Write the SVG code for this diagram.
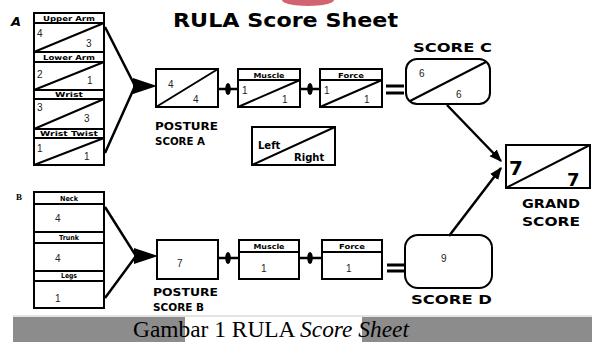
<svg xmlns="http://www.w3.org/2000/svg" width="592" height="342" viewBox="0 0 592 342">
<defs>
<style>
.bx{fill:#fff;stroke:#000;stroke-width:2}
.ln{fill:none;stroke:#000;stroke-width:2}
.cn{fill:none;stroke:#000;stroke-width:2.5}
.hd{font-family:"DejaVu Sans","Liberation Sans",sans-serif;font-weight:bold;font-size:7px;fill:#000;text-anchor:middle}
.nm{font-family:"Liberation Sans","DejaVu Sans",sans-serif;font-size:10px;fill:#222}
.lb{font-family:"DejaVu Sans","Liberation Sans",sans-serif;font-weight:bold;font-size:10px;fill:#000}
.big{font-family:"DejaVu Sans","Liberation Sans",sans-serif;font-weight:bold;font-size:12px;fill:#000}
</style>
<marker id="ah" viewBox="0 0 10 10" refX="9" refY="5" markerWidth="5" markerHeight="5" orient="auto" markerUnits="strokeWidth">
<path d="M0,1 L10,5 L0,9 Z" fill="#000"/>
</marker>
</defs>
<rect width="592" height="342" fill="#fff"/>
<ellipse cx="308" cy="0" rx="26" ry="6" fill="#c9485a" opacity="0.85"/>
<text x="173" y="27" font-family="DejaVu Sans,sans-serif" font-weight="bold" font-size="19" textLength="225" lengthAdjust="spacingAndGlyphs">RULA Score Sheet</text>
<text x="11" y="26" font-family="DejaVu Sans,sans-serif" font-weight="bold" font-style="italic" font-size="13">A</text>
<text x="16" y="200" font-family="Liberation Serif,serif" font-weight="bold" font-size="9">B</text>

<g id="groupA">
<rect class="bx" x="34" y="13" width="70" height="152"/>
<g class="ln">
<path d="M34,23H104M34,52H104M34,62H104M34,90H104M34,99H104M34,129H104M34,138H104"/>
<path d="M34,52L104,23M34,90L104,62M34,129L104,99M34,165L104,138"/>
</g>
<text class="hd" x="69" y="21" textLength="52" lengthAdjust="spacingAndGlyphs">Upper Arm</text>
<text class="hd" x="69" y="60" textLength="52" lengthAdjust="spacingAndGlyphs">Lower Arm</text>
<text class="hd" x="69" y="97" textLength="28" lengthAdjust="spacingAndGlyphs">Wrist</text>
<text class="hd" x="69" y="136" textLength="58" lengthAdjust="spacingAndGlyphs">Wrist Twist</text>
<text class="nm" x="37" y="37">4</text><text class="nm" x="86" y="47">3</text>
<text class="nm" x="37" y="78">2</text><text class="nm" x="87" y="84">1</text>
<text class="nm" x="37" y="111">3</text><text class="nm" x="84" y="122">3</text>
<text class="nm" x="37" y="152">1</text><text class="nm" x="84" y="160">1</text>
</g>

<g id="groupB">
<rect class="bx" x="34" y="192" width="70" height="116"/>
<path class="ln" d="M34,204H104M34,232H104M34,243H104M34,271H104M34,281H104"/>
<text class="hd" x="69" y="201" textLength="18" lengthAdjust="spacingAndGlyphs">Neck</text>
<text class="hd" x="69" y="240" textLength="20" lengthAdjust="spacingAndGlyphs">Trunk</text>
<text class="hd" x="69" y="278" textLength="16" lengthAdjust="spacingAndGlyphs">Legs</text>
<text class="nm" x="55" y="222">4</text>
<text class="nm" x="55" y="262">4</text>
<text class="nm" x="55" y="302">1</text>
</g>

<g id="postureA">
<rect class="bx" x="156" y="69" width="62" height="38"/>
<path class="ln" d="M156,107L218,69"/>
<text class="nm" x="168" y="88">4</text><text class="nm" x="193" y="103">4</text>
<text class="lb" x="155" y="130" textLength="63" lengthAdjust="spacingAndGlyphs">POSTURE</text>
<text class="lb" x="155" y="145" textLength="50" lengthAdjust="spacingAndGlyphs">SCORE A</text>
</g>
<g id="muscleA">
<rect class="bx" x="238" y="69" width="62" height="38"/>
<path class="ln" d="M238,80H300M238,107L300,80"/>
<text class="hd" x="269" y="78" textLength="31" lengthAdjust="spacingAndGlyphs">Muscle</text>
<text class="nm" x="242" y="94">1</text><text class="nm" x="282" y="103">1</text>
</g>
<g id="forceA">
<rect class="bx" x="320" y="69" width="62" height="38"/>
<path class="ln" d="M320,80H382M320,107L382,80"/>
<text class="hd" x="351" y="78" textLength="26" lengthAdjust="spacingAndGlyphs">Force</text>
<text class="nm" x="324" y="94">1</text><text class="nm" x="364" y="103">1</text>
</g>
<g id="scoreC">
<rect class="bx" x="406" y="59" width="84" height="45" rx="11"/>
<path class="ln" d="M410,101L486,62"/>
<text class="nm" x="419" y="77">6</text><text class="nm" x="456" y="98">6</text>
<text class="big" x="413" y="52" textLength="79" lengthAdjust="spacingAndGlyphs">SCORE C</text>
</g>

<g id="leftRight">
<rect class="bx" x="252" y="127" width="83" height="38"/>
<path class="ln" d="M252,165L335,127"/>
<text class="lb" x="258" y="149" font-size="9">Left</text>
<text class="lb" x="294" y="161" font-size="9">Right</text>
</g>

<g id="postureB">
<rect class="bx" x="157" y="240" width="61" height="39"/>
<text class="nm" x="177" y="267">7</text>
<text class="lb" x="153" y="296" textLength="65" lengthAdjust="spacingAndGlyphs">POSTURE</text>
<text class="lb" x="153" y="311" textLength="51" lengthAdjust="spacingAndGlyphs">SCORE B</text>
</g>
<g id="muscleB">
<rect class="bx" x="239" y="240" width="60" height="39"/>
<path class="ln" d="M239,252H299"/>
<text class="hd" x="269" y="249" textLength="31" lengthAdjust="spacingAndGlyphs">Muscle</text>
<text class="nm" x="261" y="272">1</text>
</g>
<g id="forceB">
<rect class="bx" x="322" y="240" width="60" height="39"/>
<path class="ln" d="M322,252H382"/>
<text class="hd" x="352" y="249" textLength="26" lengthAdjust="spacingAndGlyphs">Force</text>
<text class="nm" x="346" y="272">1</text>
</g>
<g id="scoreD">
<rect class="bx" x="405" y="235" width="87" height="53" rx="13"/>
<text class="nm" x="441" y="262">9</text>
<text class="big" x="411" y="304" textLength="81" lengthAdjust="spacingAndGlyphs">SCORE D</text>
</g>

<g id="grand">
<rect class="bx" x="506" y="145" width="84" height="43"/>
<path class="ln" d="M506,188L590,145"/>
<text x="509" y="175" font-family="DejaVu Sans,sans-serif" font-weight="bold" font-size="20">7</text>
<text x="567" y="186" font-family="DejaVu Sans,sans-serif" font-weight="bold" font-size="18">7</text>
<text class="big" x="522" y="208" textLength="58" lengthAdjust="spacingAndGlyphs">GRAND</text>
<text class="big" x="522" y="226" textLength="58" lengthAdjust="spacingAndGlyphs">SCORE</text>
</g>

<g id="connectors">
<path class="cn" d="M105,27L135,86L105,153"/>
<path d="M133,78L157,86L133,94Z" fill="#000"/>
<path class="cn" d="M105,207L136,256L105,298"/>
<path d="M134,248L158,256L134,264Z" fill="#000"/>
<path class="cn" d="M218,89H238M300,89H320"/>
<ellipse cx="228" cy="89" rx="2.8" ry="6" fill="#000"/>
<ellipse cx="310" cy="89" rx="2.8" ry="6" fill="#000"/>
<path class="cn" d="M218,258H239M299,258H322"/>
<ellipse cx="228" cy="258" rx="2.8" ry="6" fill="#000"/>
<ellipse cx="310" cy="258" rx="2.8" ry="6" fill="#000"/>
<path d="M386,86H404M386,93H404" stroke="#000" stroke-width="3"/>
<path d="M387,265H404M387,271H404" stroke="#000" stroke-width="3"/>
<path class="cn" d="M447,105L501,161" marker-end="url(#ah)"/>
<path class="cn" d="M449,236L501,168" marker-end="url(#ah)"/>
</g>

<g id="caption">
<line x1="13" y1="316" x2="592" y2="316" stroke="#c8c8c8" stroke-width="1"/>
<rect x="13" y="317" width="579" height="25" fill="#8c8c8c"/>
<rect x="185" y="317" width="177" height="25" fill="#fff"/>
<text x="133" y="337" font-family="Liberation Serif,serif" font-size="22.5" fill="#000" textLength="276" lengthAdjust="spacingAndGlyphs">Gambar 1 RULA <tspan font-style="italic">Score Sheet</tspan></text>
</g>
</svg>
